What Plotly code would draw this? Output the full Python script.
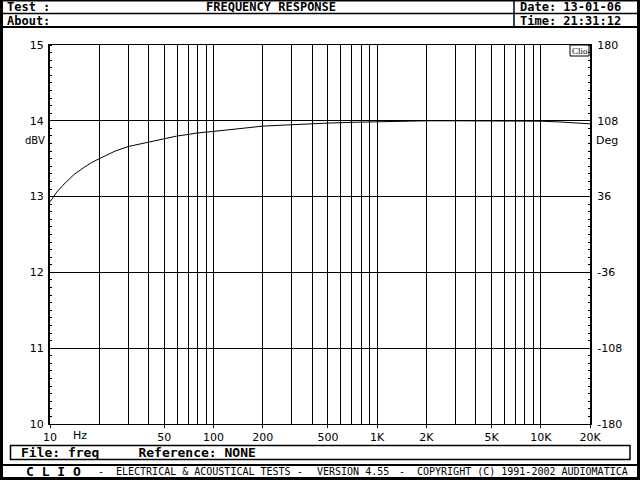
import plotly.graph_objects as go

# ---- data ----
freq_hz = [10, 10.5, 11, 12, 13, 14, 16, 18, 20, 25, 30, 40, 50, 60, 70, 80, 100,
           130, 160, 200, 250, 300, 400, 500, 700, 1000, 1500, 2000, 3000, 5000,
           7000, 10000, 13000, 16000, 20000]
level_dbv = [12.93, 13.0, 13.06, 13.15, 13.23, 13.29, 13.38, 13.45, 13.5, 13.6, 13.66,
             13.72, 13.77, 13.8, 13.82, 13.84, 13.86, 13.89, 13.91, 13.93, 13.94,
             13.95, 13.96, 13.97, 13.98, 13.99, 13.995, 14.0, 14.0, 14.0, 14.0,
             13.995, 13.985, 13.975, 13.96]

x_tick_vals = [10, 50, 100, 200, 500, 1000, 2000, 5000, 10000, 20000]
x_tick_text = ["10", "50", "100", "200", "500", "1K", "2K", "5K", "10K", "20K"]
x_grid_vals = [m * d for d in (10, 100, 1000, 10000) for m in range(1, 10) if m * d <= 20000]
y_tick_vals = [10, 11, 12, 13, 14, 15]
deg_tick_vals = [-180, -108, -36, 36, 108, 180]
deg_tick_text = ["-180", "-108", "-36", "36", "108", "180"]

W, H = 640, 480
L, R, T, B = 50, 590, 45, 424


def px(x):
    return (x - L) / (R - L)


def py(y):
    return (B - y) / (B - T)


MONO = "DejaVu Sans Mono"
SANS = "DejaVu Sans"

fig = go.Figure()
fig.add_trace(go.Scatter(x=freq_hz, y=level_dbv, mode="lines",
                         line=dict(color="black", width=1), hoverinfo="skip",
                         showlegend=False))
fig.add_trace(go.Scatter(x=[10], y=[0], yaxis="y2", mode="markers",
                         marker=dict(opacity=0), showlegend=False, hoverinfo="skip"))

fig.update_layout(
    width=W, height=H, autosize=False,
    margin=dict(l=L, r=W - R, t=T, b=H - B, pad=0),
    paper_bgcolor="white", plot_bgcolor="white",
    showlegend=False,
    xaxis=dict(type="log", range=[1, 4.30103], tickmode="array",
               tickvals=x_tick_vals, ticktext=x_tick_text,
               ticks="outside", ticklen=3, tickcolor="black", tickwidth=1,
               showgrid=True, gridcolor="black", gridwidth=1,
               minor=dict(tickvals=x_grid_vals, showgrid=True, gridcolor="black",
                          gridwidth=1, ticks=""),
               showline=True, linecolor="black", linewidth=1, mirror=True,
               zeroline=False, tickfont=dict(family=SANS, size=11, color="black"),
               fixedrange=True),
    yaxis=dict(range=[10, 15], tickmode="array", tickvals=y_tick_vals,
               ticks="", showgrid=True, gridcolor="black", gridwidth=1,
               minor=dict(dtick=0.1, ticks="inside", ticklen=2, tickcolor="black",
                          showgrid=False),
               showline=True, linecolor="black", linewidth=2, zeroline=False,
               tickfont=dict(family=SANS, size=11, color="black"), ticklabelstandoff=2,
               fixedrange=True),
    yaxis2=dict(range=[-180, 180], overlaying="y", side="right", tickmode="array",
                tickvals=deg_tick_vals, ticktext=deg_tick_text, ticks="", showgrid=False,
                minor=dict(dtick=7.2, tick0=0, ticks="inside", ticklen=2,
                           tickcolor="black", showgrid=False),
                showline=True, linecolor="black", linewidth=2, zeroline=False,
                tickfont=dict(family=SANS, size=11, color="black"), ticklabelstandoff=3,
                fixedrange=True),
)

shapes = []


def rect_px(x0, y0, x1, y1, fill=None, lw=0):
    shapes.append(dict(type="rect", xref="paper", yref="paper",
                       x0=px(x0), x1=px(x1), y0=py(y0), y1=py(y1),
                       fillcolor=fill if fill else "rgba(0,0,0,0)",
                       line=dict(color="black", width=lw), layer="above"))


def line_px(x0, y0, x1, y1, lw=1):
    shapes.append(dict(type="line", xref="paper", yref="paper",
                       x0=px(x0), x1=px(x1), y0=py(y0), y1=py(y1),
                       line=dict(color="black", width=lw), layer="above"))


# outer frame
rect_px(0, 0, 3, 480, fill="black")
rect_px(637, 0, 640, 480, fill="black")
rect_px(0, 0, 640, 1.5, fill="black")
rect_px(0, 477, 640, 480, fill="black")
# header lines
line_px(3, 13.5, 637, 13.5, 1.5)
line_px(0, 27, 640, 27, 2)
line_px(514, 0, 514, 27, 1.5)
# footer
rect_px(10.5, 445.5, 630, 459.5, lw=1.5)
line_px(0, 465, 640, 465, 2)
# Clio box
rect_px(570, 45, 589, 56, lw=1)

fig.update_layout(shapes=shapes)

ann = []


def text_px(x, y, s, size=13, bold=False, family=MONO, xanchor="left"):
    ann.append(dict(xref="paper", yref="paper", x=px(x), y=py(y), text=s,
                    showarrow=False, xanchor=xanchor, yanchor="middle",
                    font=dict(family=family, size=size, color="black",
                              weight="bold" if bold else "normal"),
                    borderpad=0))


HS = 12
R1, R2 = 6.8, 20.8
text_px(6, R1, "Test :", size=HS, bold=True)
text_px(271, R1, "FREQUENCY RESPONSE", size=HS, bold=True, xanchor="center")
text_px(519, R1, "Date: 13-01-06", size=HS, bold=True)
text_px(6, R2, "About:", size=HS, bold=True)
text_px(519, R2, "Time: 21:31:12", size=HS, bold=True)

text_px(20, 452.5, "File: freq     Reference: NONE", bold=True)

text_px(25, 471.5, "C L I O", bold=True)
text_px(97, 471.5, "-", size=10)
text_px(115, 471.5, "ELECTRICAL &amp; ACOUSTICAL TESTS", size=10)
text_px(296, 471.5, "-", size=10)
text_px(316, 471.5, "VERSION 4.55", size=10)
text_px(398, 471.5, "-", size=10)
text_px(416, 471.5, "COPYRIGHT (C) 1991-2002 AUDIOMATICA", size=10)

text_px(46, 140, "dBV", size=10, family=SANS, xanchor="right")
text_px(595, 140, "Deg", size=11, family=SANS)
text_px(80, 435.5, "Hz", size=11, family=SANS, xanchor="center")
text_px(579.5, 50.5, "Clio", size=9, family="Liberation Serif", xanchor="center")

fig.update_layout(annotations=ann)

fig.write_html("out.html", config={"displayModeBar": False},
               post_script="document.body.style.margin='0';")
